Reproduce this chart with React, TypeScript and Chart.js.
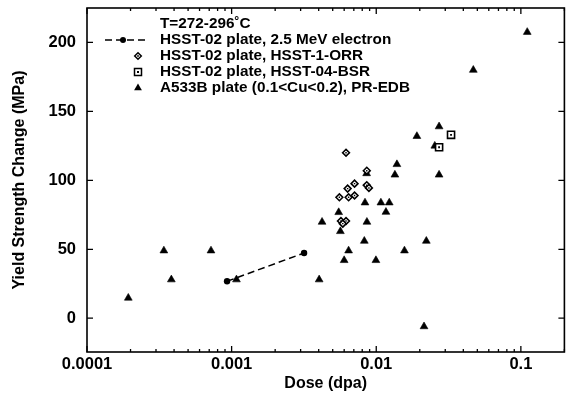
import React, { useEffect, useRef } from "react";
import { Chart, registerables } from "chart.js";

Chart.register(...registerables);

const FONT = "'Liberation Sans', Arial, Helvetica, sans-serif";

// HSST-02 plate, 2.5 MeV electron
const electronDose = [0.00093, 0.00317];
const electronDYS = [26.8, 47.3];

// HSST-02 plate, HSST-1-ORR (diamonds)
const orrDose = [0.00618, 0.0086, 0.00708, 0.00634, 0.0086, 0.0089, 0.00556, 0.00644, 0.00708, 0.0057, 0.00618, 0.00587];
const orrDYS = [120, 107, 97.6, 94, 96.5, 94.5, 87.7, 87.7, 89, 70.5, 70.5, 68.6];

// HSST-02 plate, HSST-04-BSR (squares)
const bsrDose = [0.0329, 0.0272];
const bsrDYS = [133, 124];

// A533B plate (0.1<Cu<0.2), PR-EDB (triangles)
const prDose = [
  0.000193, 0.00034, 0.000383, 0.00072, 0.00108, 0.00403, 0.00422, 0.0055, 0.00565, 0.006,
  0.00644, 0.00827, 0.00836, 0.00862, 0.00858, 0.00995, 0.01077, 0.0123, 0.01167, 0.01346,
  0.0139, 0.01567, 0.0191, 0.0214, 0.0222, 0.0254, 0.0272, 0.0272, 0.0469, 0.1107,
];
const prDYS = [
  14.7, 49, 28, 49, 28, 28, 69.8, 76.8, 63, 42,
  49, 56, 83.8, 69.8, 105, 42, 83.8, 83.8, 77, 104,
  111.6, 49, 132, -6, 56, 125, 139, 104, 180, 207.5,
];

const xTickValues = [0.0001, 0.001, 0.01, 0.1];
const xTickLabels = ["0.0001", "0.001", "0.01", "0.1"];
const yTickValues = [0, 50, 100, 150, 200];

const legendTitle = "T=272-296\u02DAC";
const seriesLabels = [
  "HSST-02 plate, 2.5 MeV electron",
  "HSST-02 plate, HSST-1-ORR",
  "HSST-02 plate, HSST-04-BSR",
  "A533B plate (0.1<Cu<0.2), PR-EDB",
];

const pts = (xs: number[], ys: number[]) => xs.map((x, i) => ({ x, y: ys[i] }));

const framePlugin = {
  id: "frameTicks",
  afterDraw(chart: any) {
    const { ctx, chartArea: a } = chart;
    const xs = chart.scales.x;
    const ys = chart.scales.y;
    ctx.save();
    ctx.strokeStyle = "#000";
    ctx.lineWidth = 1.6;
    ctx.setLineDash([]);
    ctx.strokeRect(a.left, a.top, a.right - a.left, a.bottom - a.top);
    ctx.lineWidth = 1.3;
    ctx.beginPath();
    const minE = Math.floor(Math.log10(xs.min));
    const maxE = Math.ceil(Math.log10(xs.max));
    for (let e = minE; e <= maxE; e++) {
      for (let m = 1; m <= 9; m++) {
        const v = m * Math.pow(10, e);
        if (v < xs.min * 0.999 || v > xs.max * 1.001) continue;
        const px = xs.getPixelForValue(v);
        const len = m === 1 ? 6 : 3;
        ctx.moveTo(px, a.bottom);
        ctx.lineTo(px, a.bottom - len);
        ctx.moveTo(px, a.top);
        ctx.lineTo(px, a.top + len);
      }
    }
    for (const v of yTickValues) {
      const py = ys.getPixelForValue(v);
      ctx.moveTo(a.left, py);
      ctx.lineTo(a.left + 6, py);
      ctx.moveTo(a.right, py);
      ctx.lineTo(a.right - 6, py);
    }
    ctx.stroke();

    // legend
    ctx.fillStyle = "#000";
    ctx.font = `bold 15.3px ${FONT}`;
    ctx.textAlign = "left";
    ctx.textBaseline = "middle";
    const tx = 160;
    ctx.fillText(legendTitle, tx, 24);
    const rows = [40, 56, 72, 88];
    seriesLabels.forEach((lab, i) => ctx.fillText(lab, tx, rows[i]));
    const sx = 138;
    ctx.lineWidth = 1.5;
    ctx.setLineDash([7, 4]);
    ctx.beginPath();
    ctx.moveTo(105, rows[0]);
    ctx.lineTo(149, rows[0]);
    ctx.stroke();
    ctx.setLineDash([]);
    ctx.beginPath();
    ctx.arc(123, rows[0], 3, 0, Math.PI * 2);
    ctx.fill();
    const d = 3.3;
    ctx.beginPath();
    ctx.moveTo(sx, rows[1] - d);
    ctx.lineTo(sx + d, rows[1]);
    ctx.lineTo(sx, rows[1] + d);
    ctx.lineTo(sx - d, rows[1]);
    ctx.closePath();
    ctx.fillStyle = "#fff";
    ctx.fill();
    ctx.stroke();
    ctx.fillStyle = "#000";
    ctx.fillRect(sx - 0.8, rows[1] - 0.8, 1.6, 1.6);
    const s = 3.5;
    ctx.fillStyle = "#fff";
    ctx.fillRect(sx - s, rows[2] - s, 2 * s, 2 * s);
    ctx.strokeRect(sx - s, rows[2] - s, 2 * s, 2 * s);
    ctx.fillStyle = "#000";
    ctx.fillRect(sx - 1, rows[2] - 1, 2, 2);
    const r = 4.5;
    ctx.beginPath();
    ctx.moveTo(sx, rows[3] - r);
    ctx.lineTo(sx + r * 0.866, rows[3] + r / 2);
    ctx.lineTo(sx - r * 0.866, rows[3] + r / 2);
    ctx.closePath();
    ctx.fill();
    ctx.restore();
  },
};

export default function App() {
  const ref = useRef<HTMLCanvasElement | null>(null);
  useEffect(() => {
    document.body.style.margin = "0";
    const canvas = ref.current;
    if (!canvas) return;
    const tickFont = { family: FONT, size: 16.5, weight: "bold" as const };
    const titleFont = { family: FONT, size: 16, weight: "bold" as const };
    const chart = new Chart(canvas, {
      type: "scatter",
      data: {
        datasets: [
          {
            label: seriesLabels[0],
            data: pts(electronDose, electronDYS),
            showLine: true,
            borderColor: "#000",
            borderWidth: 1.5,
            borderDash: [7, 4],
            pointStyle: "circle",
            pointRadius: 3.2,
            pointBackgroundColor: "#000",
            pointBorderWidth: 0,
          } as any,
          {
            label: seriesLabels[1] + " centre",
            data: pts(orrDose, orrDYS),
            pointStyle: "rect",
            pointRadius: 1,
            pointBackgroundColor: "#000",
            pointBorderWidth: 0,
          },
          {
            label: seriesLabels[1],
            data: pts(orrDose, orrDYS),
            pointStyle: "rectRot",
            pointRadius: 3.4,
            pointBackgroundColor: "#fff",
            pointBorderColor: "#000",
            pointBorderWidth: 1.6,
          },
          {
            label: seriesLabels[2] + " centre",
            data: pts(bsrDose, bsrDYS),
            pointStyle: "rect",
            pointRadius: 1.3,
            pointBackgroundColor: "#000",
            pointBorderWidth: 0,
          },
          {
            label: seriesLabels[2],
            data: pts(bsrDose, bsrDYS),
            pointStyle: "rect",
            pointRadius: 5,
            pointBackgroundColor: "#fff",
            pointBorderColor: "#000",
            pointBorderWidth: 1.6,
          },
          {
            label: seriesLabels[3],
            data: pts(prDose, prDYS),
            pointStyle: "triangle",
            pointRadius: 4.5,
            pointBackgroundColor: "#000",
            pointBorderColor: "#000",
            pointBorderWidth: 0.6,
          },
        ],
      },
      options: {
        animation: false,
        responsive: false,
        layout: { padding: { top: 8, right: 3, left: 0, bottom: 0 } },
        plugins: { legend: { display: false }, tooltip: { enabled: false } },
        scales: {
          x: {
            type: "logarithmic",
            position: "bottom",
            min: 0.0001,
            max: 0.2,
            grid: { display: false, drawTicks: false },
            border: { display: false },
            afterBuildTicks: (s: any) => {
              s.ticks = xTickValues.map((v) => ({ value: v }));
            },
            afterFit: (s: any) => {
              s.height = 50;
              s.paddingLeft = 0;
              s.paddingRight = 0;
            },
            ticks: {
              autoSkip: false,
              maxRotation: 0,
              padding: 3,
              color: "#000",
              font: tickFont,
              callback: (v: any) => {
                const i = xTickValues.findIndex((t) => Math.abs(t - Number(v)) / t < 1e-6);
                return i >= 0 ? xTickLabels[i] : "";
              },
            },
            title: {
              display: true,
              text: "Dose (dpa)",
              color: "#000",
              font: titleFont,
              padding: { top: 0, bottom: 9 },
            },
          },
          y: {
            type: "linear",
            min: -24.5,
            max: 225,
            grid: { display: false, drawTicks: false },
            border: { display: false },
            afterBuildTicks: (s: any) => {
              s.ticks = yTickValues.map((v) => ({ value: v }));
            },
            afterFit: (s: any) => {
              s.width = 87;
              s.paddingTop = 0;
              s.paddingBottom = 0;
            },
            ticks: { padding: 11, color: "#000", font: tickFont },
            title: {
              display: true,
              text: "Yield Strength Change (MPa)",
              color: "#000",
              font: titleFont,
              padding: { top: 10, bottom: 0 },
            },
          },
        },
      } as any,
      plugins: [framePlugin],
    });
    return () => chart.destroy();
  }, []);
  return (
    <div style={{ position: "absolute", left: 0, top: 0, width: 571, height: 402, background: "#fff" }}>
      <canvas ref={ref} width={571} height={402} style={{ display: "block" }} />
    </div>
  );
}
